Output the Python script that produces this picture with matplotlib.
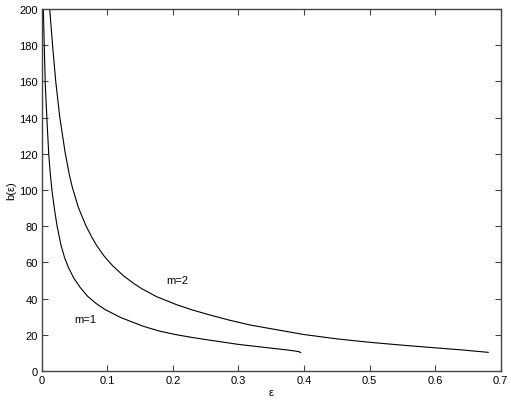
import matplotlib
matplotlib.use("Agg")
import matplotlib.pyplot as plt

eps_m1 = [0.0025, 0.004, 0.0055, 0.0081, 0.0107, 0.0131, 0.0157, 0.0198, 0.0235, 0.0294,
          0.035, 0.0406, 0.049, 0.0584, 0.070, 0.083, 0.0965, 0.12, 0.155, 0.18,
          0.206, 0.23, 0.257, 0.3, 0.348, 0.375, 0.387, 0.392, 0.395]
b_m1 = [200, 178, 158, 138, 120, 109, 99.5, 88.5, 80, 69.5,
        62.5, 57.3, 51.3, 46.3, 41.3, 37.3, 34.0, 29.6, 24.7, 22.0,
        20.0, 18.5, 17.0, 14.7, 12.7, 11.6, 11.0, 10.7, 10.2]

eps_m2 = [0.0122, 0.0168, 0.0214, 0.0275, 0.0356, 0.0421, 0.0467, 0.0558, 0.067, 0.0763,
          0.0839, 0.095, 0.103, 0.109, 0.125, 0.141, 0.1525, 0.175, 0.206, 0.23,
          0.257, 0.285, 0.318, 0.36, 0.399, 0.449, 0.499, 0.549, 0.6, 0.639, 0.681]
b_m2 = [200, 179, 160, 140.5, 121, 108.5, 101.5, 90.5, 80.6, 74,
        69.3, 63.6, 60.2, 57.9, 52.5, 48.2, 45.5, 41.1, 36.6, 33.7,
        30.9, 28.2, 25.4, 22.7, 20.2, 17.8, 15.9, 14.3, 12.8, 11.7, 10.3]

labels = ["m=1", "m=2"]
label_pos = [(0.066, 28.7), (0.2074, 50.4)]

plt.rcParams['font.family'] = ['Liberation Sans', 'DejaVu Sans']
fig = plt.figure(figsize=(5.11, 4.02), dpi=100)
ax = fig.add_axes([41.7/511, 1-372/402, (500.7-41.7)/511, (372-10)/402])

ax.plot(eps_m1, b_m1, color='black', lw=0.8)
ax.plot(eps_m2, b_m2, color='black', lw=0.8)
for t, (x, y) in zip(labels, label_pos):
    ax.text(x, y, t, fontsize=8, ha='center', va='center')

ax.set_xlim(0, 0.7)
ax.set_ylim(0, 200)
ax.set_xticks([0, 0.1, 0.2, 0.3, 0.4, 0.5, 0.6, 0.7])
ax.set_xticklabels(['0', '0.1', '0.2', '0.3', '0.4', '0.5', '0.6', '0.7'])
ax.set_yticks(range(0, 201, 20))
ax.tick_params(direction='in', top=True, right=True, labelsize=8, length=4, width=0.8, color='#444', pad=3)
for s in ax.spines.values():
    s.set_color('#444')
    s.set_linewidth(1.0)
ax.set_xlabel('ε', fontsize=8, labelpad=1)
ax.set_ylabel('b(ε)', fontsize=8, labelpad=2)

fig.savefig('out.png', dpi=100)
